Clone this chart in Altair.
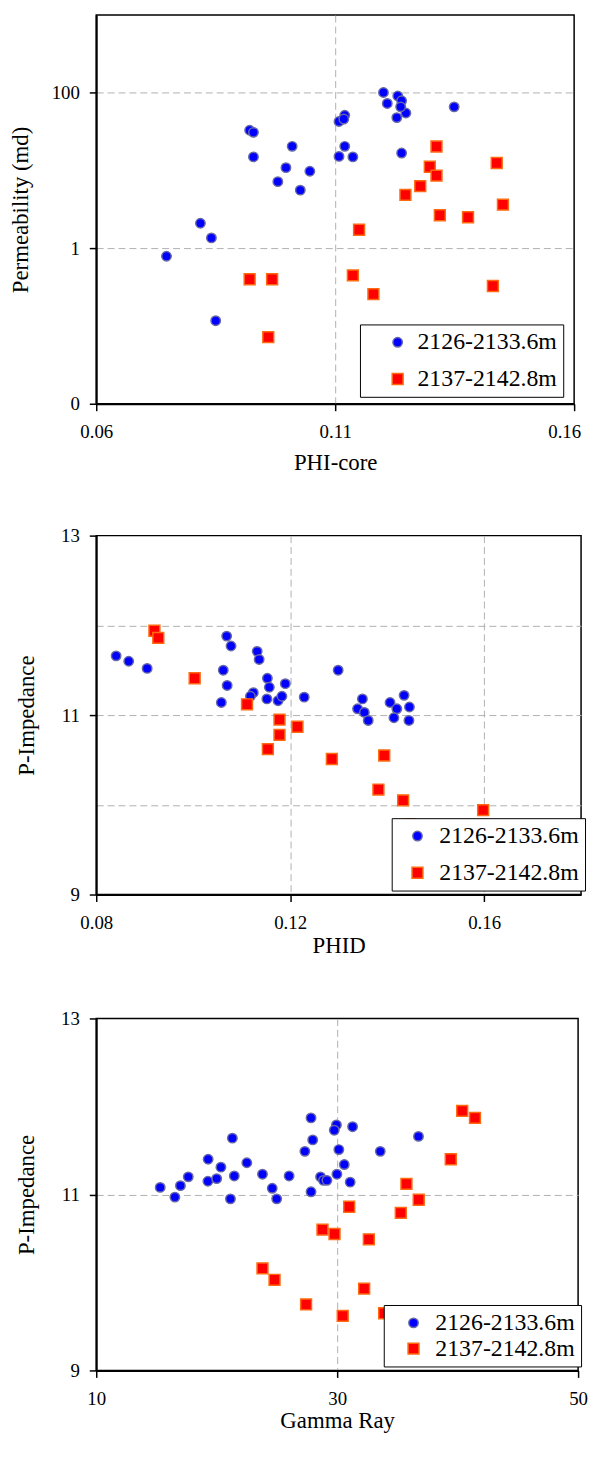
import altair as alt
import pandas as pd

S1 = "2126-2133.6m"
S2 = "2137-2142.8m"
SERIES = [S1, S2]
FONT = "Liberation Serif"

# ---------------- Panel 1: PHI-core vs Permeability ----------------
p1_blue_x = [0.0747, 0.0818, 0.0841, 0.0850, 0.0921, 0.0929, 0.0929, 0.0980, 0.0997,
             0.1010, 0.1027, 0.1047, 0.1120, 0.1108, 0.1118, 0.1120, 0.1108, 0.1137,
             0.1201, 0.1209, 0.1231, 0.1239, 0.1229, 0.1248, 0.1237, 0.1349, 0.1239]
p1_blue_y = [0.79, 2.1, 1.36, 0.117, 33, 31, 15, 7.2, 10.9,
             20.5, 5.6, 9.8, 51.5, 42.8, 46, 20.5, 15.2, 15.0,
             101, 73, 91, 79, 48, 55, 66, 66, 16.8]
p1_red_x = [0.0921, 0.0968, 0.0960, 0.1312, 0.1298, 0.1312, 0.1278, 0.1247,
            0.1438, 0.1451, 0.1319, 0.1378, 0.1150, 0.1137, 0.1180, 0.1430]
p1_red_y = [0.40, 0.40, 0.072, 20.4, 11.2, 8.6, 6.3, 4.87,
            12.5, 3.64, 2.66, 2.51, 1.73, 0.448, 0.257, 0.327]

# ---------------- Panel 2: PHID vs P-Impedance ----------------
p2_blue_x = [0.0841, 0.0867, 0.0905, 0.1069, 0.1078, 0.1132, 0.1136, 0.1062, 0.1070,
             0.1058, 0.1153, 0.1157, 0.1190, 0.1124, 0.1118, 0.1152, 0.1175, 0.1183,
             0.1229, 0.1299, 0.1349, 0.1339, 0.1353, 0.1361, 0.1406, 0.1420, 0.1435,
             0.1446, 0.1414, 0.1445]
p2_blue_y = [11.66, 11.60, 11.52, 11.88, 11.77, 11.71, 11.62, 11.50, 11.33,
             11.14, 11.41, 11.31, 11.35, 11.25, 11.21, 11.18, 11.16, 11.21,
             11.20, 11.50, 11.18, 11.07, 11.03, 10.94, 11.14, 11.07, 11.22,
             11.09, 10.97, 10.94]
p2_red_x = [0.0920, 0.0928, 0.1003, 0.1111, 0.1178, 0.1178, 0.1215, 0.1154,
            0.1286, 0.1394, 0.1382, 0.1433, 0.1598, 0.1447]
p2_red_y = [11.94, 11.86, 11.41, 11.12, 10.95, 10.78, 10.87, 10.62,
            10.51, 10.55, 10.17, 10.05, 9.94, 9.78]

# ---------------- Panel 3: Gamma Ray vs P-Impedance ----------------
p3_blue_x = [15.31, 16.53, 16.99, 17.64, 19.29, 19.27, 20.00, 20.35, 21.30, 21.46,
             21.14, 22.50, 23.80, 24.61, 24.98, 26.01, 27.83, 27.32, 27.97, 27.83,
             28.62, 28.86, 29.15, 29.94, 29.76, 30.14, 29.98, 30.59, 31.08, 31.28,
             33.58, 36.75]
p3_blue_y = [11.08, 10.97, 11.10, 11.20, 11.40, 11.15, 11.18, 11.31, 11.64, 11.21,
             10.95, 11.36, 11.23, 11.07, 10.95, 11.21, 11.87, 11.49, 11.62, 11.03,
             11.20, 11.16, 11.16, 11.79, 11.73, 11.51, 11.23, 11.34, 11.14, 11.77,
             11.49, 11.66]
p3_red_x = [23.80, 24.80, 27.42, 30.46, 28.78, 29.78, 32.63, 32.24,
            40.38, 41.44, 39.43, 35.75, 36.77, 31.00, 35.28, 33.90]
p3_red_y = [10.16, 10.03, 9.75, 9.62, 10.60, 10.55, 10.49, 9.93,
            11.95, 11.87, 11.40, 11.12, 10.94, 10.86, 10.79, 9.65]


def table(bx, by, rx, ry):
    return pd.DataFrame({
        "x": bx + rx,
        "y": by + ry,
        "Depth": [S1] * len(bx) + [S2] * len(rx),
    })


def legend(lx, ly, symoff, laboff, rowpad, nbsp):
    return alt.Legend(
        title=None, orient="none", legendX=lx, legendY=ly,
        fillColor="white", strokeColor="black",
        padding=6, cornerRadius=0,
        labelFont=FONT, labelFontSize=24, labelColor="black",
        labelExpr="datum.label + '" + "\u00a0" * nbsp + "'",
        symbolOffset=symoff, labelOffset=laboff, rowPadding=rowpad,
        symbolStrokeWidth=1.5, symbolOpacity=1,
    )


def edge_hide(lo, hi):
    return {"condition": {"test": f"datum.value <= {lo} || datum.value >= {hi}", "value": 0}, "value": 1}


def panel(df, w, h, xdom, xvals, xfmt, xtitle, ydom, yvals, ytitle, ytype,
          leg, ytp, xtp, ylabel_expr=None, ytick_op=None, xlabel_offset=None):
    yaxis_kw = dict(values=yvals, title=ytitle, titlePadding=ytp, labelFlush=False,
                    labelBaseline="middle", labelAlign="right",
                    gridOpacity=edge_hide(ydom[0], ydom[1]))
    if ylabel_expr:
        yaxis_kw["labelExpr"] = ylabel_expr
    else:
        yaxis_kw["format"] = ".0f"
    if ytick_op:
        yaxis_kw["tickOpacity"] = ytick_op
    xaxis_kw = dict(values=xvals, format=xfmt, title=xtitle, titlePadding=xtp,
                    labelFlush=False, labelAlign="center",
                    gridOpacity=edge_hide(xdom[0], xdom[1]))
    if xlabel_offset:
        xaxis_kw["labelOffset"] = xlabel_offset
    yscale = alt.Scale(type=ytype, domain=ydom, nice=False) if ytype == "log" else \
        alt.Scale(domain=ydom, nice=False, zero=False)
    return alt.Chart(df).mark_point(filled=True, opacity=1, strokeWidth=1.5).encode(
        x=alt.X("x:Q", scale=alt.Scale(domain=xdom, nice=False, zero=False),
                axis=alt.Axis(**xaxis_kw)),
        y=alt.Y("y:Q", scale=yscale, axis=alt.Axis(**yaxis_kw)),
        fill=alt.Fill("Depth:N", scale=alt.Scale(domain=SERIES, range=["#0000ff", "#ff0000"]), legend=leg),
        stroke=alt.Stroke("Depth:N", scale=alt.Scale(domain=SERIES, range=["#6868a8", "#ff6a10"]), legend=leg),
        shape=alt.Shape("Depth:N", scale=alt.Scale(domain=SERIES, range=["circle", "square"]), legend=leg),
        size=alt.Size("Depth:N", scale=alt.Scale(domain=SERIES, range=[90, 120]), legend=leg),
        order=alt.Order("Depth:N"),
    ).properties(width=w, height=h)


c1 = panel(table(p1_blue_x, p1_blue_y, p1_red_x, p1_red_y), 482, 392,
           [0.06, 0.16], [0.06, 0.11, 0.16], ".2f", "PHI-core",
           [0.01, 1000], [0.01, 1, 100], "Permeability (md)", "log",
           legend(266, 312, 20, 8, 13, 3), 19, 10,
           xlabel_offset={"condition": {"test": "datum.value >= 0.16", "value": -10}, "value": 0})

c2 = panel(table(p2_blue_x, p2_blue_y, p2_red_x, p2_red_y), 489, 362,
           [0.08, 0.18], [0.08, 0.12, 0.16], ".2f", "PHID",
           [9, 13], [9, 10, 11, 12, 13], "P-Impedance", "linear",
           legend(298, 285, 8, 10, 13, 1), 22, 2,
           ylabel_expr="datum.value % 2 == 1 ? datum.label : ''",
           ytick_op={"condition": {"test": "datum.value % 2 == 0", "value": 0}, "value": 1})

c3 = panel(table(p3_blue_x, p3_blue_y, p3_red_x, p3_red_y), 486, 355,
           [10, 50], [10, 30, 50], "d", "Gamma Ray",
           [9, 13], [9, 11, 13], "P-Impedance", "linear",
           legend(290, 289, 12, 10, 2, 1), 22, 2)

chart = alt.concat(c1, c2, c3, columns=1, align="none", spacing=51).resolve_scale(
    fill="independent", stroke="independent", shape="independent", size="independent"
).resolve_legend(
    fill="independent", stroke="independent", shape="independent", size="independent"
).properties(padding=0).configure_view(
    stroke="black", strokeWidth=1.5
).configure_axis(
    labelFont=FONT, labelFontSize=19, labelColor="black", labelFlush=False,
    titleFont=FONT, titleFontSize=23, titleFontWeight="normal", titleColor="black",
    domainColor="black", domainWidth=2, tickColor="black", tickSize=7, tickWidth=1.5,
    grid=True, gridColor="#b0b0b0", gridDash=[7, 4], gridWidth=1,
).configure_axisX(labelPadding=12).configure_axisY(labelPadding=10)

chart.save("out.html", embed_options={"renderer": "svg", "actions": False})
